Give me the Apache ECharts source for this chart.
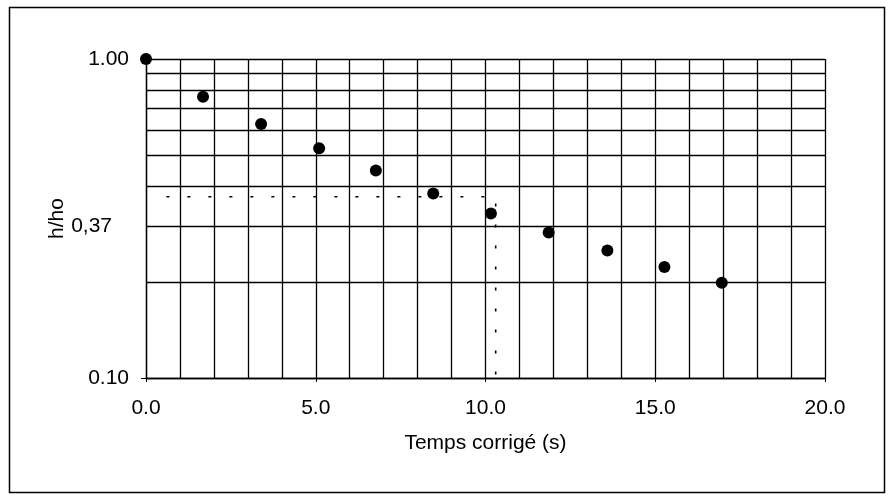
<!DOCTYPE html>
<html>
<head>
<meta charset="utf-8">
<title>h/ho - Temps corrigé</title>
<script src="https://cdn.jsdelivr.net/npm/echarts@6/dist/echarts.min.js"></script>
<style>
  html, body { margin: 0; padding: 0; background: #fff; }
  #chart { width: 888px; height: 497px; }
</style>
</head>
<body>
<div id="chart"></div>
<script>
// données
const tempsCorrige = [0, 1.68, 3.39, 5.1, 6.77, 8.46, 10.16, 11.86, 13.59, 15.27, 16.96];
const hSurHo = [1.0, 0.762, 0.626, 0.525, 0.447, 0.379, 0.328, 0.286, 0.251, 0.223, 0.199];

// lignes horizontales intermédiaires (échelle log)
const yGridValues = [0.2, 0.3, 0.4, 0.5, 0.6, 0.7, 0.8, 0.9];
const yLabelValue = 0.3;
const yLabelText = '0,37';

// repère pointillé à h/ho = 0,37
const refRatio = 0.37;
const refStartX = 0.6;
const refTime = 10.3;
const yMin = 0.1;
const yMax = 1.0;

const FONT = '"Liberation Sans", Arial, sans-serif';
const INK = '#000';

const chart = echarts.init(document.getElementById('chart'));

const points = tempsCorrige.map((t, i) => [t, hSurHo[i]]);
const refLine = [[refStartX, refRatio], [refTime, refRatio], [refTime, yMin]];

const option = {
  backgroundColor: '#fff',
  animation: false,
  textStyle: { fontFamily: FONT, color: INK },
  grid: { left: 146, right: 63, top: 59, bottom: 119 },
  graphic: [
    {
      type: 'rect',
      left: 7,
      top: 5,
      shape: { width: 875, height: 485 },
      style: { fill: 'none', stroke: INK, lineWidth: 1.5 },
      silent: true
    }
  ],
  xAxis: {
    type: 'value',
    min: 0,
    max: 20,
    interval: 5,
    name: 'Temps corrigé (s)',
    nameLocation: 'middle',
    nameGap: 55,
    nameTextStyle: { fontSize: 21, color: INK, fontFamily: FONT },
    axisLine: { show: true, lineStyle: { color: INK, width: 1.3 } },
    axisTick: { show: true, length: 4, lineStyle: { color: INK } },
    axisLabel: {
      fontSize: 21,
      color: INK,
      margin: 20,
      formatter: (v) => v.toFixed(1)
    },
    splitLine: { show: true, lineStyle: { color: INK, width: 1.3 } },
    minorTick: { show: false, splitNumber: 5 },
    minorSplitLine: { show: true, lineStyle: { color: INK, width: 1.3 } }
  },
  yAxis: {
    type: 'log',
    logBase: 10,
    min: yMin,
    max: yMax,
    name: 'h/ho',
    nameLocation: 'middle',
    nameGap: 78,
    nameRotate: 90,
    nameTextStyle: { fontSize: 21, color: INK, fontFamily: FONT },
    axisLine: { show: true, lineStyle: { color: INK, width: 1.3 } },
    axisTick: { show: true, length: 5, lineStyle: { color: INK } },
    axisLabel: {
      fontSize: 21,
      color: INK,
      margin: 17,
      formatter: (v) => v.toFixed(2)
    },
    splitLine: { show: true, lineStyle: { color: INK, width: 1.3 } }
  },
  series: [
    {
      // grille horizontale 0.2 ... 0.9
      type: 'line',
      data: [],
      silent: true,
      markLine: {
        silent: true,
        symbol: 'none',
        animation: false,
        lineStyle: { color: INK, width: 1.3, type: 'solid' },
        label: { show: false },
        emphasis: { disabled: true },
        data: yGridValues.map((v) => {
          const item = { yAxis: v };
          if (v === yLabelValue) {
            item.label = {
              show: true,
              position: 'start',
              distance: 34,
              formatter: yLabelText,
              fontSize: 21,
              color: INK,
              fontFamily: FONT
            };
          }
          return item;
        })
      }
    },
    {
      type: 'line',
      data: refLine,
      symbol: 'none',
      silent: true,
      lineStyle: { color: INK, width: 1.6, type: [3, 18] }
    },
    {
      type: 'scatter',
      data: points,
      symbol: 'circle',
      symbolSize: 12,
      clip: false,
      itemStyle: { color: '#000', opacity: 1 },
      z: 5
    }
  ]
};

chart.setOption(option);
window.addEventListener('resize', () => chart.resize());
</script>
</body>
</html>
